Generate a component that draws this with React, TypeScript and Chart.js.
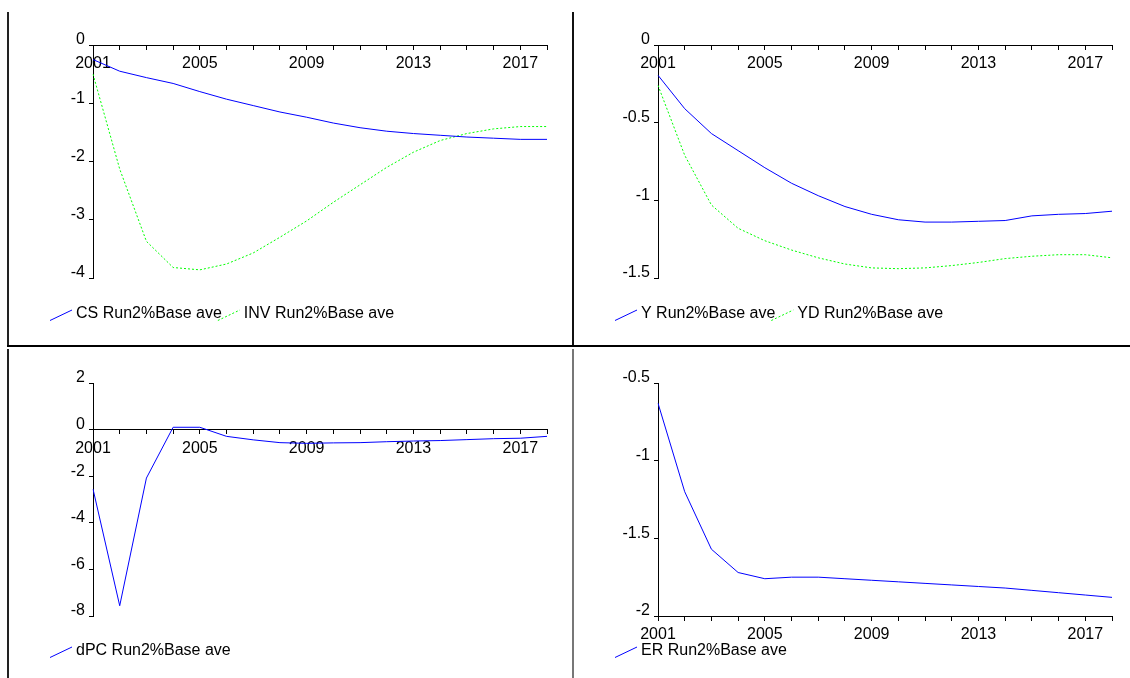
import React, { useEffect, useRef } from 'react';
import { Chart, registerables } from 'chart.js';

Chart.register(...registerables);

const FONT = "'Liberation Sans', Arial, Helvetica, sans-serif";

// ---- data ----
const years = ['2001', '2002', '2003', '2004', '2005', '2006', '2007', '2008', '2009', '2010', '2011', '2012', '2013', '2014', '2015', '2016', '2017', '2018'];

const csValues = [-0.25, -0.45, -0.56, -0.66, -0.80, -0.93, -1.04, -1.15, -1.24, -1.34, -1.42, -1.48, -1.52, -1.55, -1.58, -1.60, -1.62, -1.62];
const invValues = [-0.5, -2.13, -3.37, -3.82, -3.86, -3.76, -3.57, -3.30, -3.02, -2.70, -2.40, -2.10, -1.84, -1.64, -1.52, -1.44, -1.40, -1.40];
const yValues = [-0.195, -0.41, -0.57, -0.68, -0.79, -0.89, -0.97, -1.04, -1.09, -1.125, -1.14, -1.14, -1.135, -1.13, -1.10, -1.09, -1.085, -1.07];
const ydValues = [-0.26, -0.71, -1.03, -1.18, -1.26, -1.32, -1.37, -1.41, -1.435, -1.44, -1.435, -1.42, -1.40, -1.375, -1.36, -1.35, -1.35, -1.37];
const dpcValues = [-2.55, -7.56, -2.08, 0.10, 0.10, -0.29, -0.44, -0.56, -0.59, -0.57, -0.56, -0.52, -0.49, -0.47, -0.43, -0.39, -0.37, -0.29];
const erValues = [-0.63, -1.20, -1.57, -1.72, -1.76, -1.75, -1.75, -1.76, -1.77, -1.78, -1.79, -1.80, -1.81, -1.82, -1.835, -1.85, -1.865, -1.88];

const seriesLabels = {
  cs: 'CS Run2%Base ave',
  inv: 'INV Run2%Base ave',
  y: 'Y Run2%Base ave',
  yd: 'YD Run2%Base ave',
  dpc: 'dPC Run2%Base ave',
  er: 'ER Run2%Base ave',
};

const BLUE = '#0000FF';
const GREEN = '#00FF00';

type Series = { label: string; values: number[]; color: string; dash: number[] };

const legendPlugin = {
  id: 'evLegend',
  afterDraw(chart: any, _args: any, opts: any) {
    const ctx = chart.ctx;
    let x = opts.x;
    const y = opts.y;
    ctx.save();
    ctx.font = `16px ${FONT}`;
    ctx.textBaseline = 'middle';
    ctx.textAlign = 'left';
    chart.data.datasets.forEach((ds: any) => {
      ctx.beginPath();
      ctx.strokeStyle = ds.borderColor;
      ctx.lineWidth = 1;
      ctx.setLineDash(ds.borderDash || []);
      ctx.moveTo(x, y + 6.5);
      ctx.lineTo(x + 22, y - 4);
      ctx.stroke();
      ctx.setLineDash([]);
      ctx.fillStyle = '#000';
      ctx.fillText(ds.label, x + 26, y);
      x += 26 + ctx.measureText(ds.label).width - 4;
    });
    ctx.restore();
  },
};

type PanelProps = {
  left: number;
  top: number;
  width: number;
  height: number;
  pad: { left: number; right: number; top: number; bottom: number };
  series: Series[];
  yMin: number;
  yMax: number;
  yStep: number;
  axisAt: number;
};

function Panel({ left, top, width, height, pad, series, yMin, yMax, yStep, axisAt }: PanelProps) {
  const ref = useRef<HTMLCanvasElement>(null);
  useEffect(() => {
    const font = { family: FONT, size: 16 };
    const chart = new Chart(ref.current as HTMLCanvasElement, {
      type: 'line',
      data: {
        labels: years,
        datasets: series.map((s) => ({
          label: s.label,
          data: s.values,
          borderColor: s.color,
          backgroundColor: s.color,
          borderDash: s.dash,
          borderWidth: 1,
          pointRadius: 0,
          fill: false,
          tension: 0,
        })),
      },
      options: {
        animation: false,
        responsive: false,
        devicePixelRatio: 1,
        layout: { padding: pad },
        plugins: {
          legend: { display: false },
          tooltip: { enabled: false },
          evLegend: { x: 40, y: 302 },
        } as any,
        scales: {
          x: {
            type: 'category',
            position: { y: axisAt } as any,
            grid: { display: true, drawOnChartArea: false, drawTicks: true, tickLength: 4, color: '#000', lineWidth: 1 },
            border: { display: true, color: '#000', width: 1 },
            ticks: {
              autoSkip: false,
              maxRotation: 0,
              minRotation: 0,
              padding: 5,
              color: '#000',
              font,
              callback: (_v: any, i: number) => (i % 4 === 0 ? years[i] : ''),
            },
          },
          y: {
            type: 'linear',
            min: yMin,
            max: yMax,
            afterFit: (s: any) => {
              s.width = 40;
            },
            grid: { display: true, drawOnChartArea: false, drawTicks: true, tickLength: 4, color: '#000', lineWidth: 1 },
            border: { display: true, color: '#000', width: 1 },
            ticks: {
              stepSize: yStep,
              padding: 4,
              labelOffset: -5,
              color: '#000',
              font,
              callback: (v: any) => String(Math.round(Number(v) * 100) / 100),
            },
          },
        },
      },
      plugins: [legendPlugin as any],
    });
    return () => chart.destroy();
  }, []);
  return (
    <canvas
      ref={ref}
      width={width}
      height={height}
      style={{ position: 'absolute', left, top, width, height, display: 'block' }}
    />
  );
}

const line = (left: number, top: number, width: number, height: number, color: string) => (
  <div style={{ position: 'absolute', left, top, width, height, background: color }} />
);

export default function App() {
  const padTopLeft = { left: 43, right: 23, top: 33, bottom: 67 };
  const padTopRight = { left: 43, right: 18, top: 33, bottom: 67 };
  const padBotLeft = { left: 43, right: 23, top: 34, bottom: 62 };
  const padBotRight = { left: 43, right: 18, top: 34, bottom: 62 };
  return (
    <div style={{ position: 'absolute', left: 0, top: 0, width: 1130, height: 678, overflow: 'hidden', background: '#fff' }}>
      <Panel
        left={10}
        top={12}
        width={560}
        height={333}
        pad={padTopLeft}
        yMin={-4}
        yMax={0}
        yStep={1}
        axisAt={0}
        series={[
          { label: seriesLabels.cs, values: csValues, color: BLUE, dash: [] },
          { label: seriesLabels.inv, values: invValues, color: GREEN, dash: [2, 2] },
        ]}
      />
      <Panel
        left={575}
        top={12}
        width={555}
        height={333}
        pad={padTopRight}
        yMin={-1.5}
        yMax={0}
        yStep={0.5}
        axisAt={0}
        series={[
          { label: seriesLabels.y, values: yValues, color: BLUE, dash: [] },
          { label: seriesLabels.yd, values: ydValues, color: GREEN, dash: [2, 2] },
        ]}
      />
      <Panel
        left={10}
        top={349}
        width={560}
        height={329}
        pad={padBotLeft}
        yMin={-8}
        yMax={2}
        yStep={2}
        axisAt={0}
        series={[{ label: seriesLabels.dpc, values: dpcValues, color: BLUE, dash: [] }]}
      />
      <Panel
        left={575}
        top={349}
        width={555}
        height={329}
        pad={padBotRight}
        yMin={-2}
        yMax={-0.5}
        yStep={0.5}
        axisAt={-2}
        series={[{ label: seriesLabels.er, values: erValues, color: BLUE, dash: [] }]}
      />
      {line(7, 12, 2, 334, '#222')}
      {line(572, 12, 2, 334, '#111')}
      {line(7, 345, 1123, 2, '#000')}
      {line(7, 349, 2, 329, '#222')}
      {line(572, 349, 2, 329, '#777')}
    </div>
  );
}
